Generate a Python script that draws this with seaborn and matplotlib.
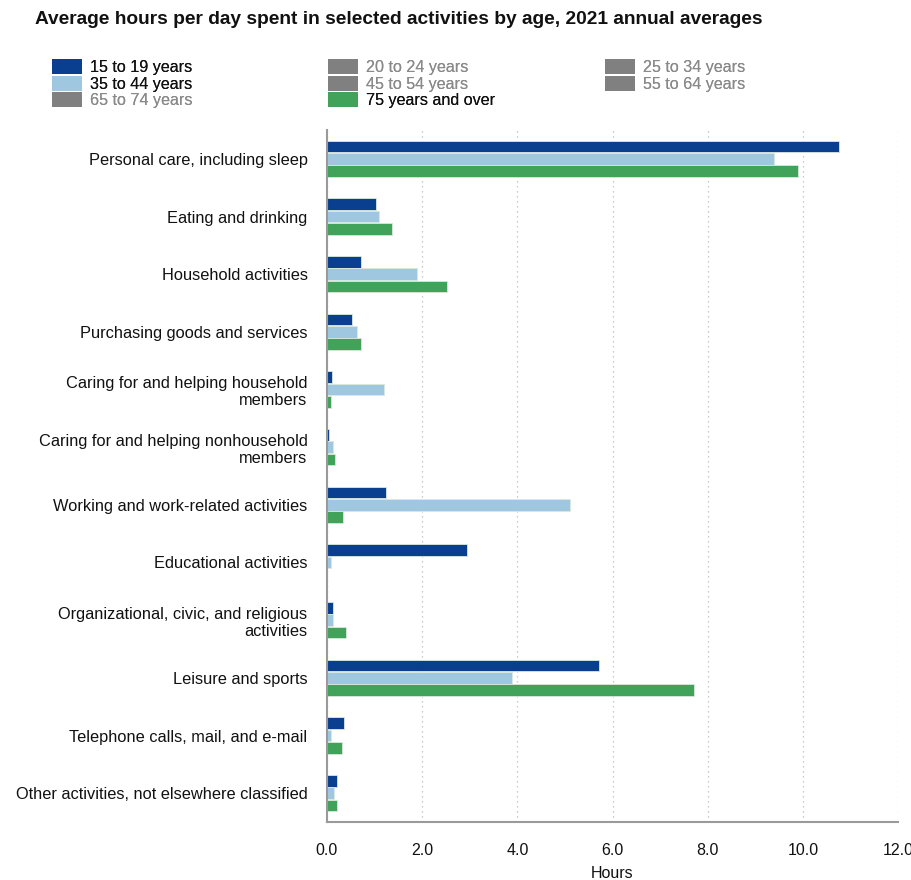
import numpy as np
import pandas as pd
import matplotlib
matplotlib.use("Agg")
import matplotlib.pyplot as plt
import matplotlib.patches as mpatches
import seaborn as sns

# =========================
# DATA
# =========================
activities = [
    "Personal care, including sleep",
    "Eating and drinking",
    "Household activities",
    "Purchasing goods and services",
    "Caring for and helping household\nmembers",
    "Caring for and helping nonhousehold\nmembers",
    "Working and work-related activities",
    "Educational activities",
    "Organizational, civic, and religious\nactivities",
    "Leisure and sports",
    "Telephone calls, mail, and e-mail",
    "Other activities, not elsewhere classified",
]
hours_15_19 = [10.75, 1.04, 0.71, 0.52, 0.11, 0.05, 1.25, 2.95, 0.13, 5.72, 0.35, 0.20]
hours_35_44 = [9.39, 1.09, 1.89, 0.63, 1.19, 0.13, 5.11, 0.08, 0.12, 3.89, 0.09, 0.14]
hours_75_up = [9.89, 1.36, 2.52, 0.71, 0.08, 0.17, 0.34, 0.00, 0.40, 7.71, 0.32, 0.22]

shown_groups = ["15 to 19 years", "35 to 44 years", "75 years and over"]
# legend columns, as laid out in the original
legend_cols = [
    ["15 to 19 years", "35 to 44 years", "65 to 74 years"],
    ["20 to 24 years", "45 to 54 years", "75 years and over"],
    ["25 to 34 years", "55 to 64 years"],
]
xticks = [0, 2, 4, 6, 8, 10, 12]

# =========================
# STYLE
# =========================
COLORS = {"15 to 19 years": "#0a3f8f",
          "35 to 44 years": "#9fc8e0",
          "75 years and over": "#41a35a"}
HIDDEN = "#808080"
INK = "#111111"

sns.set_style("white")
plt.rcParams["font.family"] = ["Liberation Sans", "DejaVu Sans"]
plt.rcParams["text.color"] = INK
plt.rcParams["axes.labelcolor"] = INK
plt.rcParams["xtick.labelcolor"] = INK
plt.rcParams["ytick.labelcolor"] = INK

df = pd.DataFrame({
    "activity": activities * 3,
    "group": np.repeat(shown_groups, len(activities)),
    "hours": hours_15_19 + hours_35_44 + hours_75_up,
})

fig = plt.figure(figsize=(9.12, 8.8), dpi=100)
ax = fig.add_axes([327 / 912, 1 - 822 / 880, (898 - 327) / 912, (822 - 130) / 880])

sns.barplot(data=df, y="activity", x="hours", hue="group", hue_order=shown_groups,
            palette=COLORS, saturation=1, orient="h", width=0.64, gap=0.05, ax=ax,
            edgecolor="#dbe9dc", linewidth=0.6, legend=False)

ax.set_xlim(0, 12)
ax.set_xticks(xticks)
ax.set_xticklabels([f"{t:.1f}" for t in xticks], fontsize=11.5)
ax.set_xlabel("Hours", fontsize=11.5, labelpad=6)
ax.set_ylabel("")
ax.tick_params(axis="y", length=0, labelsize=11.8, pad=14)
ax.tick_params(axis="x", length=5, color="#999999", pad=10)
ax.grid(axis="x", linestyle=(0, (1, 3)), color="#bbbbbb", linewidth=0.9)
ax.set_axisbelow(True)
for side in ["top", "right"]:
    ax.spines[side].set_visible(False)
for side in ["left", "bottom"]:
    ax.spines[side].set_color("#9a9a9a")
    ax.spines[side].set_linewidth(1.5)

fig.text(35 / 912, 1 - 20 / 880, "Average hours per day spent in selected activities by age, 2021 annual averages",
         fontsize=13.8, fontweight="bold", va="center", ha="left")

# three separate legend columns so each one sits where the original has it
col_x = [52, 328, 605]
for x0, names in zip(col_x, legend_cols):
    handles = [mpatches.Patch(facecolor=COLORS.get(g, HIDDEN), edgecolor="none") for g in names]
    leg = fig.legend(handles, names, loc="upper left",
                     bbox_to_anchor=(x0 / 912, 1 - 59 / 880),
                     frameon=False, fontsize=11.6, handlelength=1.85, handleheight=1.05,
                     handletextpad=0.5, labelspacing=0.04, borderaxespad=0, borderpad=0)
    for txt, g in zip(leg.get_texts(), names):
        txt.set_color(INK if g in COLORS else "#8a8a8a")
    fig.add_artist(leg)

fig.savefig("out.png", dpi=100)
